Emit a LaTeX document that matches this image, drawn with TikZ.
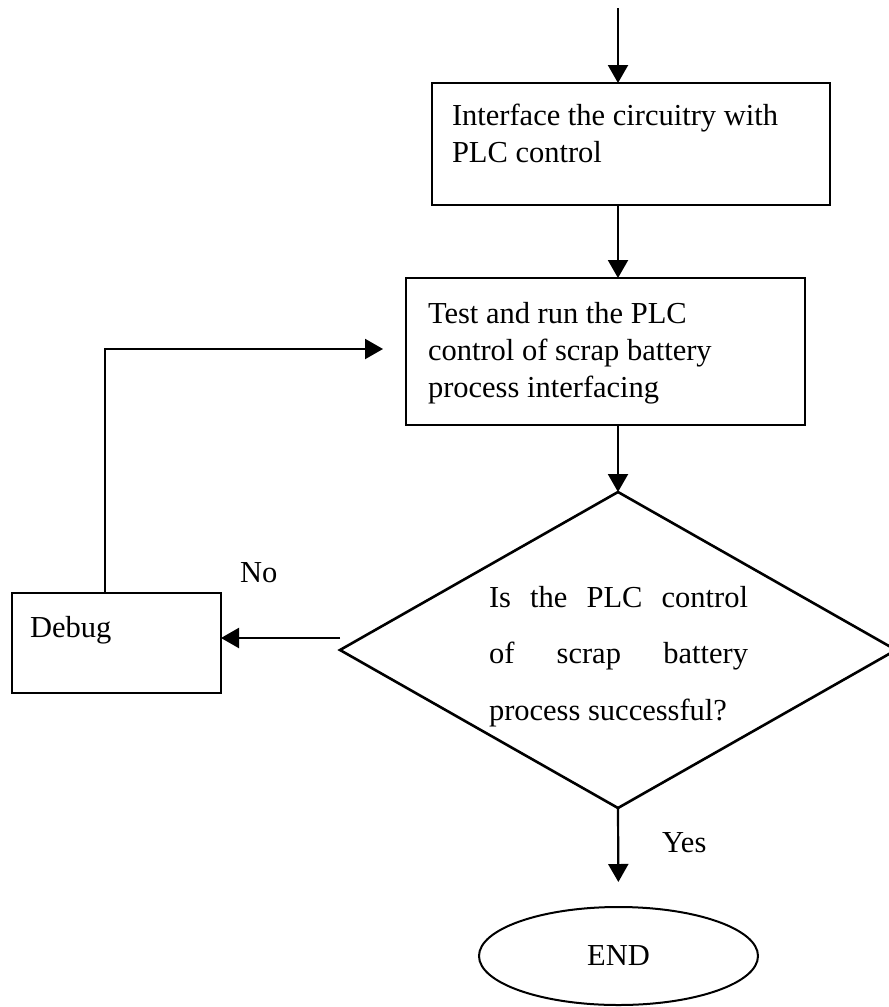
\documentclass[tikz,border=0pt]{standalone}
\usepackage{fontspec}
\setmainfont{Liberation Serif}
\usetikzlibrary{arrows.meta,shapes.geometric,calc}
\begin{document}
\begin{tikzpicture}[x=1pt,y=-1pt,
  every node/.style={inner sep=0pt, outer sep=0pt,
    font=\fontsize{30.5}{37}\selectfont},
  procbox/.style={draw, line width=2.2pt, rectangle},
  decision/.style={draw, line width=2.6pt, diamond},
  terminal/.style={draw, line width=2pt, ellipse},
  txt/.style={anchor=base west, align=left},
  flow/.style={line width=2.2pt, -{Triangle[length=18pt,width=20pt]}}]
\useasboundingbox (0,0) rectangle (889,1007);

% process boxes
\node[procbox, minimum width=398pt, minimum height=122pt] (b1) at (631,144) {};
\node[procbox, minimum width=399pt, minimum height=147pt] (b2) at (605.5,351.5) {};
\node[procbox, minimum width=209pt, minimum height=100pt] (dbg) at (116.5,643) {};

% decision and terminal
\node[decision, minimum width=556pt, minimum height=316pt] (dec) at (618,650) {};
\node[terminal, minimum width=279pt, minimum height=98pt] (end) at (618.5,956) {END};

% box texts (anchored at the baseline of their last line)
\node[txt] (t1) at (452,162) {Interface the circuitry with\\PLC control};
\node[txt] (t2) at (428,397) {Test and run the PLC\\control of scrap battery\\process interfacing};
\node[txt, font=\fontsize{30.5}{56.5}\selectfont] (tq) at (489,720)
  {\makebox[259pt][s]{Is the PLC control}\\\makebox[259pt][s]{of scrap battery}\\process successful?};
\node[txt] (tdbg) at (30,637) {Debug};
\node[txt] (no) at (240,582) {No};
\node[txt] (yes) at (662,852) {Yes};

% connectors
\coordinate (top) at (618,8);
\draw[flow] (top) -- (top |- b1.north);
\draw[flow] (top |- b1.south) -- (top |- b2.north);
\draw[flow] (dec.north |- b2.south) -- (dec.north);
\draw[flow] ([yshift=12pt]dec.west) -- ([yshift=12pt]dec.west -| dbg.east);
\draw[flow] ([xshift=-11.5pt]dbg.north) |- ([shift={(-23pt,2.5pt)}]b2.west);
\draw[flow, shorten >=25pt] (dec.south) -- (end.north);
\end{tikzpicture}
\end{document}
